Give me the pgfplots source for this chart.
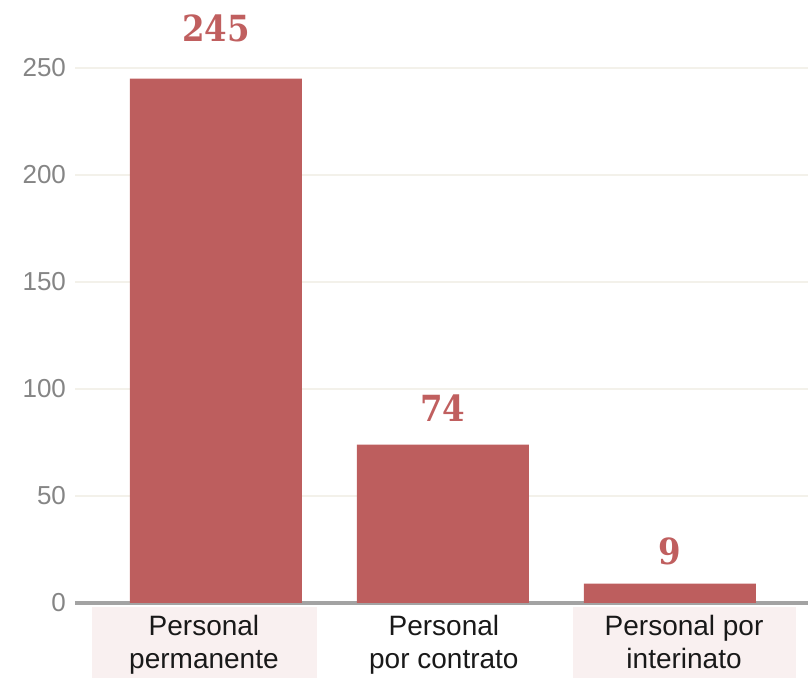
\documentclass[border=0pt]{standalone}
\usepackage{pgfplots}
\pgfplotsset{compat=1.18}
\usepackage{pgfplotstable}
\usepackage{fontspec}
\setmainfont{Liberation Sans}
\newfontfamily\slab{DejaVu Serif Condensed}
\definecolor{barred}{HTML}{BD5E5E}
\definecolor{valred}{HTML}{C05F5F}
\definecolor{gridc}{HTML}{F3F1EA}
\definecolor{boxpink}{HTML}{F9F0F0}
\definecolor{axisgray}{HTML}{A3A3A3}
\definecolor{tickgray}{HTML}{858585}
\pgfplotstableread{
x y off
0 245 15
1 74 8
2 9 6
}\data
\begin{document}
\begin{tikzpicture}
\path[use as bounding box] (-37.5pt,-37.5pt) rectangle (366.5pt,301.5pt);
\fill[boxpink] (8.5pt,-2pt) rectangle (121pt,-38pt);
\fill[boxpink] (249pt,-2pt) rectangle (360.5pt,-38pt);
\begin{axis}[
  at={(0,0)}, anchor=south west,
  scale only axis, width=366.5pt, height=267.5pt,
  xmin=-0.621, xmax=2.608, ymin=0, ymax=250,
  clip=false,
  axis lines=left,
  x axis line style={-, axisgray, line width=2pt},
  y axis line style={draw=none},
  ytick={0,50,100,150,200,250},
  ymajorgrids, grid style={gridc, line width=1pt},
  major tick length=0pt,
  /pgf/number format/assume math mode=true,
  yticklabel style={font=\fontsize{13}{15}\selectfont, text=tickgray, xshift=-1pt},
  xtick={-0.053,1.004,2.062},
  xticklabels={{Personal\\permanente},{Personal\\por contrato},{Personal por\\interinato}},
  xticklabel style={font=\fontsize{14}{16.5}\selectfont, text=black!90, align=center, yshift=-2.5pt},
  tick style={draw=none},
]
\addplot[ybar, bar width=86pt, fill=barred, draw=none,
  nodes near coords,
  visualization depends on={\thisrow{off} \as \off},
  every node near coord/.append style={font=\slab\bfseries\fontsize{18}{20}\selectfont, text=valred, anchor=south, yshift=\off pt},
] table[x=x, y=y] {\data};
\end{axis}
\end{tikzpicture}
\end{document}
